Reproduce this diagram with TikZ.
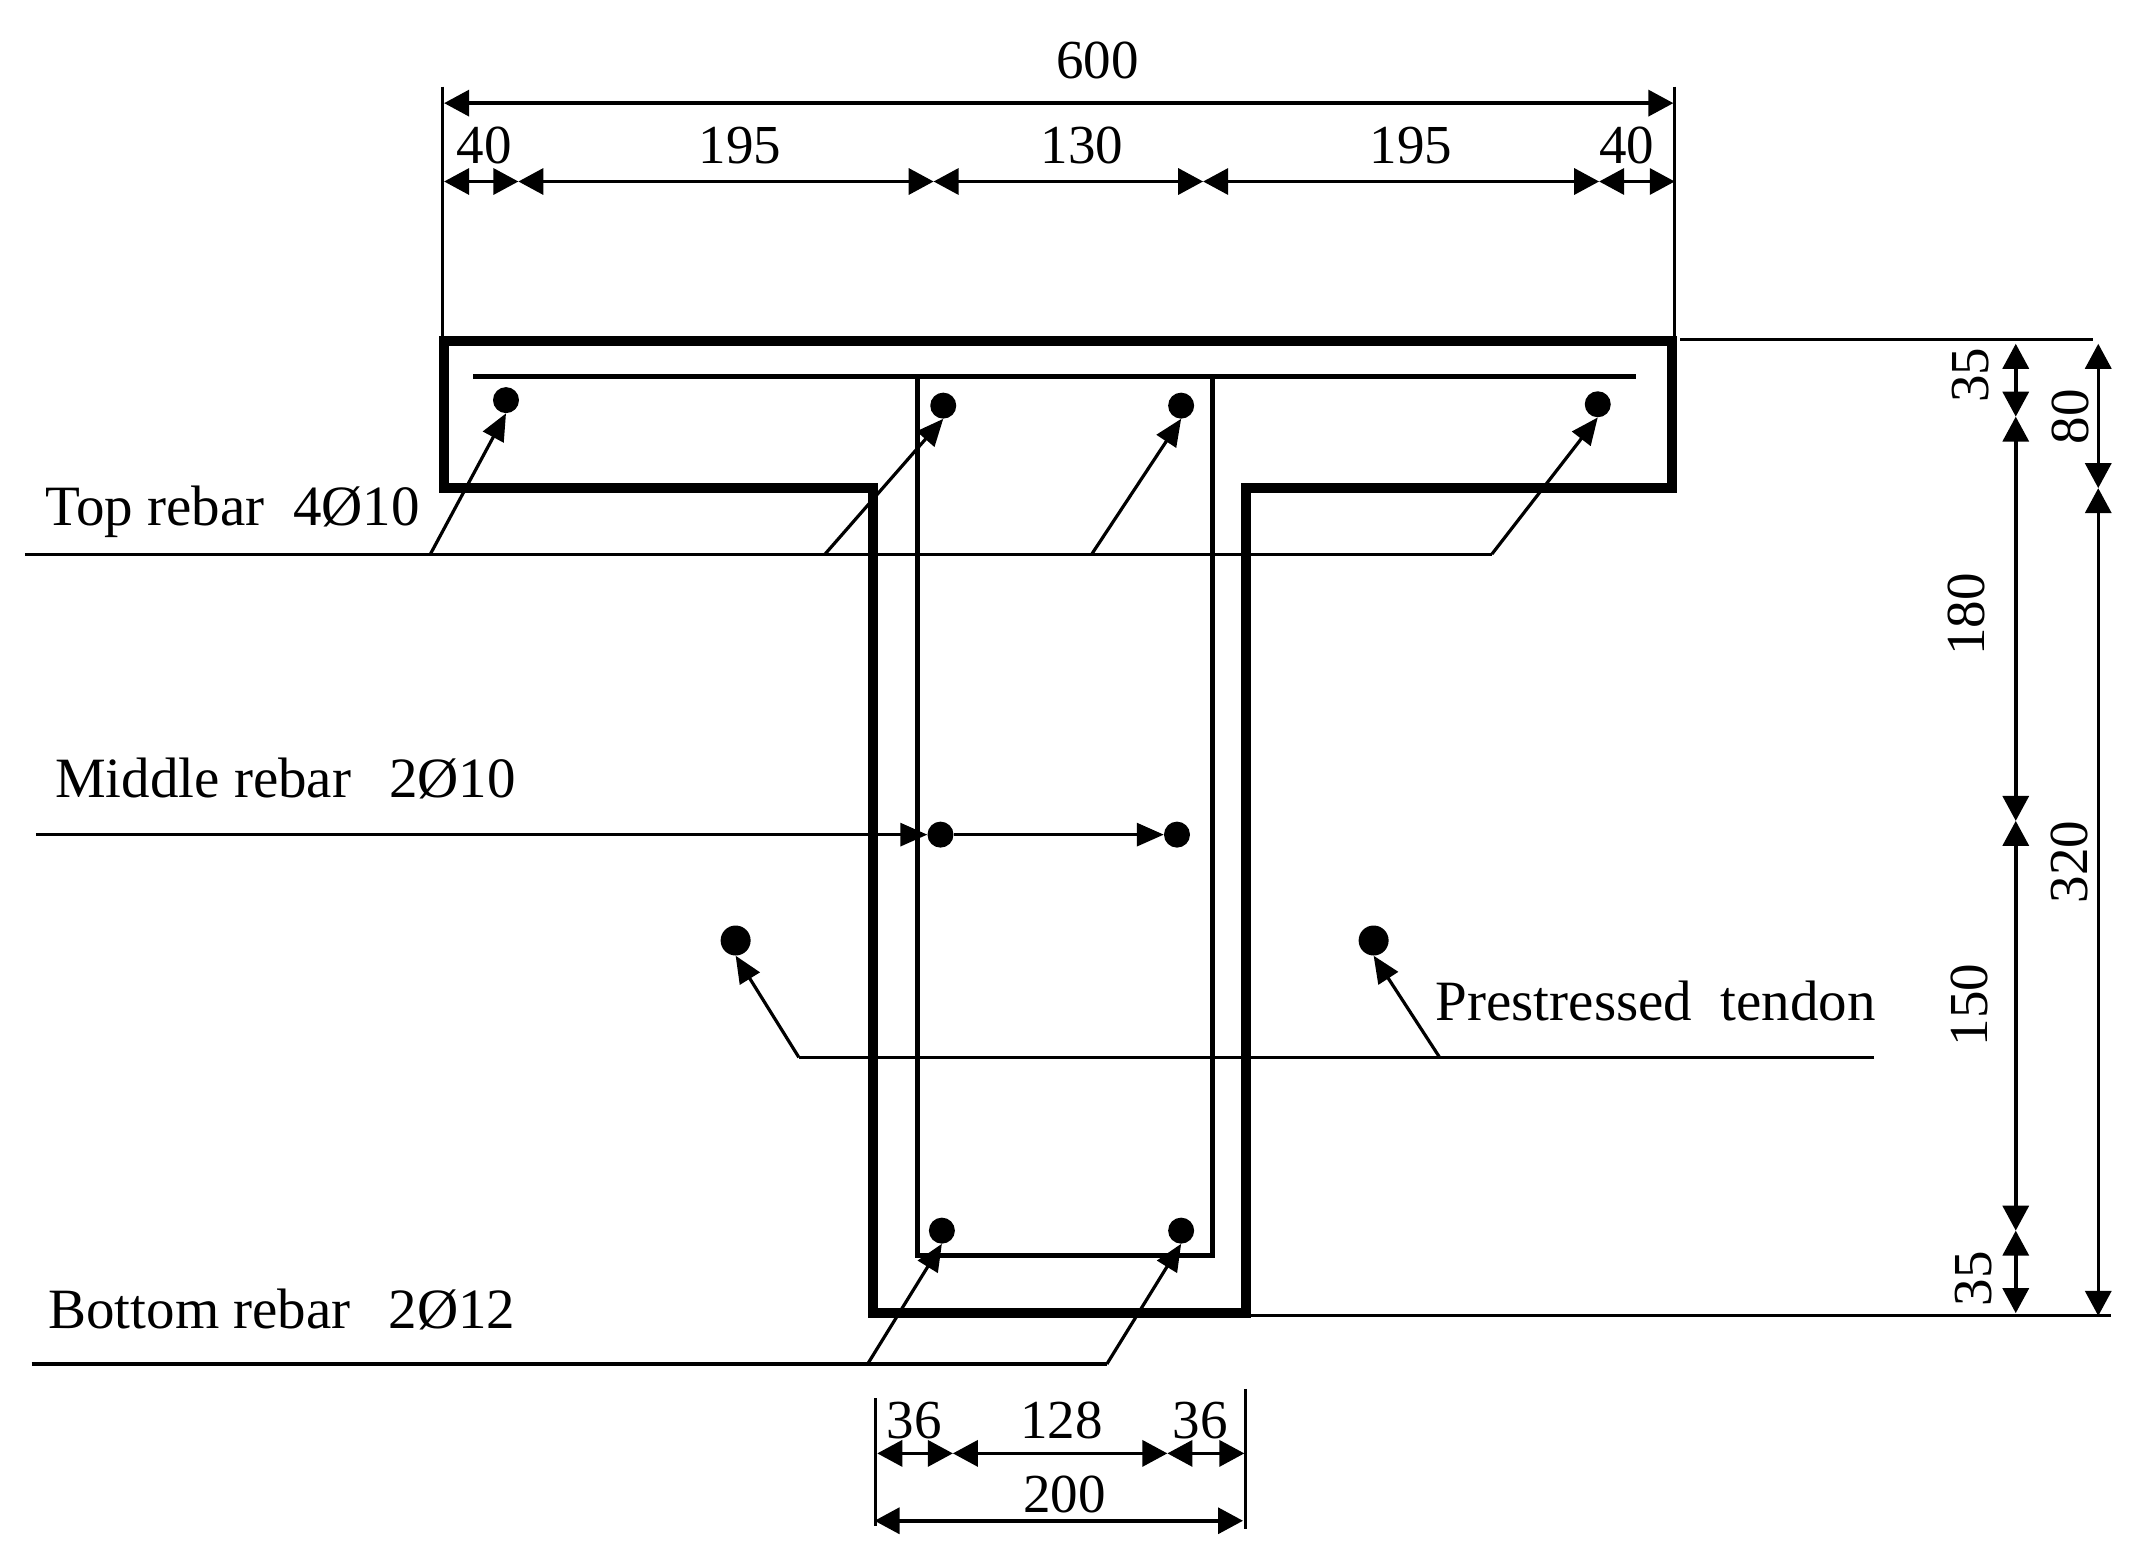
\documentclass[tikz,border=0pt]{standalone}
\usepackage{fontspec}
\setmainfont{Liberation Serif}
\usetikzlibrary{arrows.meta}
\tikzset{
  thickline/.style={line width=10.5pt,line join=miter},
  thinline/.style={line width=3.2pt},
  stirrup/.style={line width=5pt},
  dimline/.style={line width=3.5pt,{Triangle[length=25pt,width=26pt]}-{Triangle[length=25pt,width=26pt]},shorten >=0pt,shorten <=0pt},
  leaderarrow/.style={line width=3.2pt,-{Triangle[length=27pt,width=23pt]}},
  rebar/.style={circle,fill=black,inner sep=0pt,minimum size=26pt},
  tendon/.style={circle,fill=black,inner sep=0pt,minimum size=30pt},
  lbl/.style={inner sep=0pt,font=\fontsize{55}{60}\selectfont},
  rlbl/.style={lbl,rotate=90},
  tlbl/.style={inner sep=0pt,anchor=base west,font=\fontsize{57}{60}\selectfont}
}
\begin{document}
\begin{tikzpicture}[x=1.375pt,y=-1.375pt]
\useasboundingbox (0,0) rectangle (1568,1140.36);
% T section
\draw[thickline] (323,248) -- (1216,248) -- (1216,355) -- (906,355) -- (906,955) -- (635,955) -- (635,355) -- (323,355) -- cycle;
% stirrup and top bar
\draw[stirrup] (344,274) -- (1190,274);
\draw[stirrup] (667,274) -- (667,913) -- (882,913) -- (882,274);
% rebars
\node[rebar] (t1) at (368,291) {};
\node[rebar] (t2) at (686,295) {};
\node[rebar] (t3) at (859,295) {};
\node[rebar] (t4) at (1162,294) {};
\node[rebar] (m1) at (684,607) {};
\node[rebar] (m2) at (856,607) {};
\node[rebar] (b1) at (685,895) {};
\node[rebar] (b2) at (859,895) {};
\node[tendon] (p1) at (535,684) {};
\node[tendon] (p2) at (999,684) {};
% leaders
\coordinate (tl0) at (18,403); \coordinate (tl1) at (313,403); \coordinate (tl2) at (600,403);
\coordinate (tl3) at (794,403); \coordinate (tl4) at (1085,403);
\draw[thinline] (tl0) -- (tl4);
\draw[leaderarrow] (tl1) -- (t1.south);
\draw[leaderarrow] (tl2) -- (t2.south);
\draw[leaderarrow] (tl3) -- (t3.south);
\draw[leaderarrow] (tl4) -- (t4.south);
\coordinate (ml0) at (26,607);
\draw[leaderarrow] (ml0) -- (m1);
\draw[leaderarrow] (m1) -- (m2);
\coordinate (pl0) at (1363,769); \coordinate (pl1) at (581,769); \coordinate (pl2) at (1047,769);
\draw[thinline] (pl0) -- (pl1);
\draw[leaderarrow] (pl1) -- (p1.south);
\draw[leaderarrow] (pl2) -- (p2.south);
\coordinate (bl0) at (23,992); \coordinate (bl1) at (631,992); \coordinate (bl2) at (805,992);
\draw[thinline] (bl0) -- (bl2);
\draw[leaderarrow] (bl1) -- (b1.south);
\draw[leaderarrow] (bl2) -- (b2.south);
% extension lines
\coordinate (ea) at (322,63); \coordinate (eb) at (322,247);
\coordinate (ec) at (1218,63); \coordinate (ed) at (1218,247);
\coordinate (ee) at (1222,247); \coordinate (ef) at (1522,247);
\coordinate (eg) at (906,957); \coordinate (eh) at (1535,957);
\coordinate (ei) at (637,1017); \coordinate (ej) at (637,1110);
\coordinate (ek) at (906,1010); \coordinate (el) at (906,1112);
\draw[thinline] (ea) -- (eb);
\draw[thinline] (ec) -- (ed);
\draw[thinline] (ee) -- (ef);
\draw[thinline] (eg) -- (eh);
\draw[thinline] (ei) -- (ej);
\draw[thinline] (ek) -- (el);
% top dimensions
\coordinate (a0) at (323,75); \coordinate (a1) at (1217,75);
\draw[dimline] (a0) -- (a1);
\coordinate (c0) at (323,132); \coordinate (c1) at (377,132); \coordinate (c2) at (679,132);
\coordinate (c3) at (875,132); \coordinate (c4) at (1163,132); \coordinate (c5) at (1218,132);
\draw[dimline] (c0) -- (c1);
\draw[dimline] (c1) -- (c2);
\draw[dimline] (c2) -- (c3);
\draw[dimline] (c3) -- (c4);
\draw[dimline] (c4) -- (c5);
% right dimensions
\coordinate (r0) at (1466,250); \coordinate (r1) at (1466,303); \coordinate (r2) at (1466,597);
\coordinate (r3) at (1466,895); \coordinate (r4) at (1466,955);
\draw[dimline] (r0) -- (r1);
\draw[dimline] (r1) -- (r2);
\draw[dimline] (r2) -- (r3);
\draw[dimline] (r3) -- (r4);
\coordinate (s0) at (1526,250); \coordinate (s1) at (1526,355); \coordinate (s2) at (1526,957);
\draw[dimline] (s0) -- (s1);
\draw[dimline] (s1) -- (s2);
% bottom dimensions
\coordinate (d0) at (638,1057); \coordinate (d1) at (693,1057); \coordinate (d2) at (849,1057); \coordinate (d3) at (905,1057);
\draw[dimline] (d0) -- (d1);
\draw[dimline] (d1) -- (d2);
\draw[dimline] (d2) -- (d3);
\coordinate (f0) at (636,1106); \coordinate (f1) at (904,1106);
\draw[dimline] (f0) -- (f1);
% dimension labels
\node[lbl] (n600) at (798,44) {600};
\node[lbl] (n40a) at (352,106) {40};
\node[lbl] (n195a) at (538,106) {195};
\node[lbl] (n130) at (787,106) {130};
\node[lbl] (n195b) at (1026,106) {195};
\node[lbl] (n40b) at (1183,106) {40};
\node[rlbl] (n35a) at (1433,273) {35};
\node[rlbl] (n80) at (1506,303) {80};
\node[rlbl] (n180) at (1430,447) {180};
\node[rlbl] (n320) at (1505,627) {320};
\node[rlbl] (n150) at (1432,731) {150};
\node[rlbl] (n35b) at (1435,930) {35};
\node[lbl] (n36a) at (665,1033) {36};
\node[lbl] (n128) at (772,1033) {128};
\node[lbl] (n36b) at (873,1033) {36};
\node[lbl] (n200) at (774,1087) {200};
% text labels
\node[tlbl] (ltop) at (33,382) {Top rebar\ \ 4Ø10};
\node[tlbl] (lmid) at (40,580) {Middle rebar\ \ \,2Ø10};
\node[tlbl] (lpre) at (1044,742) {Prestressed\ \ tendon};
\node[tlbl] (lbot) at (35,966) {Bottom rebar\ \ \,2Ø12};
\end{tikzpicture}
\end{document}
